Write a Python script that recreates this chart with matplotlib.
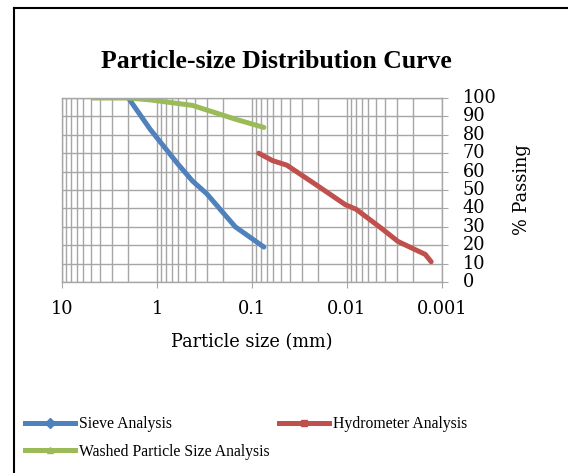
import matplotlib
matplotlib.use("Agg")
import matplotlib.pyplot as plt
from matplotlib.lines import Line2D
from matplotlib.ticker import LogLocator, NullFormatter, FixedLocator

# --- data ---
sieve_size = [2.0, 1.18, 0.6, 0.425, 0.3, 0.15, 0.075]
sieve_pass = [100, 83, 64, 55, 48, 30, 19]

hydro_size = [0.085, 0.061, 0.043, 0.020, 0.0104, 0.0080, 0.0043, 0.0029, 0.0015, 0.0013]
hydro_pass = [70, 66, 63.5, 52, 42, 39.5, 29, 22, 15, 11]

washed_size = [4.75, 2.0, 1.18, 0.6, 0.425, 0.3, 0.15, 0.075]
washed_pass = [100, 100, 99, 97, 96, 93.5, 88.5, 84]

x_ticks = [10, 1, 0.1, 0.01, 0.001]
x_ticklabels = ["10", "1", "0.1", "0.01", "0.001"]
y_ticks = list(range(0, 101, 10))

BLUE = "#4F81BD"
RED = "#C0504D"
GREEN = "#9BBB59"
GRID = "#a6a6a6"

plt.rcParams['font.family'] = ['DejaVu Serif']

fig = plt.figure(figsize=(5.68, 4.73), dpi=100)
ax = fig.add_axes([62/568, 1 - 282/473, 380/568, 184/473])

lw = 3.6
ax.plot(sieve_size, sieve_pass, color=BLUE, lw=lw, solid_capstyle='round')
ax.plot(hydro_size, hydro_pass, color=RED, lw=lw, solid_capstyle='round')
ax.plot(washed_size, washed_pass, color=GREEN, lw=lw, solid_capstyle='round')

ax.set_xscale('log')
ax.set_xlim(10, 0.001)
ax.set_ylim(0, 100)

ax.xaxis.set_major_locator(FixedLocator(x_ticks))
ax.set_xticklabels(x_ticklabels)
ax.xaxis.set_minor_locator(LogLocator(base=10, subs=range(2, 10)))
ax.xaxis.set_minor_formatter(NullFormatter())
ax.set_yticks(y_ticks)

ax.yaxis.tick_right()
ax.yaxis.set_label_position('right')
ax.tick_params(axis='x', which='major', direction='out', length=4, color=GRID,
               labelsize=12.8, pad=9)
ax.tick_params(axis='x', which='minor', length=0)
ax.tick_params(axis='y', direction='out', length=4, color=GRID, labelsize=12.8, pad=11)
for lab in ax.get_yticklabels():
    lab.set_verticalalignment('center')

ax.grid(True, which='both', axis='x', color=GRID, lw=1)
ax.grid(True, which='major', axis='y', color=GRID, lw=1)
ax.set_axisbelow(True)
for s in ax.spines.values():
    s.set_color(GRID)
    s.set_linewidth(1)

ax.set_xlabel("Particle size (mm)", fontsize=12.8, labelpad=11)
ax.set_ylabel("% Passing", fontsize=12.8, labelpad=12)

fig.text(276/568, 1 - 62/473, "Particle-size Distribution Curve", ha='center', va='center',
         fontsize=18.5, fontweight='bold', family='Liberation Serif')

# legend: row-wise order (Sieve, Hydrometer / Washed)
handles = [
    Line2D([], [], color=BLUE, lw=lw, marker='D', markersize=5),
    Line2D([], [], color=GREEN, lw=lw, marker='^', markersize=5),
    Line2D([], [], color=RED, lw=lw, marker='s', markersize=5),
]
labels = ["Sieve Analysis", "Washed Particle Size Analysis", "Hydrometer Analysis"]
fig.legend(handles, labels, loc='upper left', bbox_to_anchor=(25/568, 1 - 416/473),
           ncol=2, frameon=False, prop={'family': 'Liberation Serif', 'size': 11.3},
           handlelength=3.2, handletextpad=0.25, columnspacing=0.6, labelspacing=0.75,
           borderaxespad=0, borderpad=0)

# outer frame (clipped on right and bottom)
fig.add_artist(Line2D([14/568, 14/568], [0, 1 - 8/473], color='black', lw=1.5,
                      transform=fig.transFigure))
fig.add_artist(Line2D([14/568, 1], [1 - 8/473, 1 - 8/473], color='black', lw=1.5,
                      transform=fig.transFigure))

fig.savefig("out.png", dpi=100)
